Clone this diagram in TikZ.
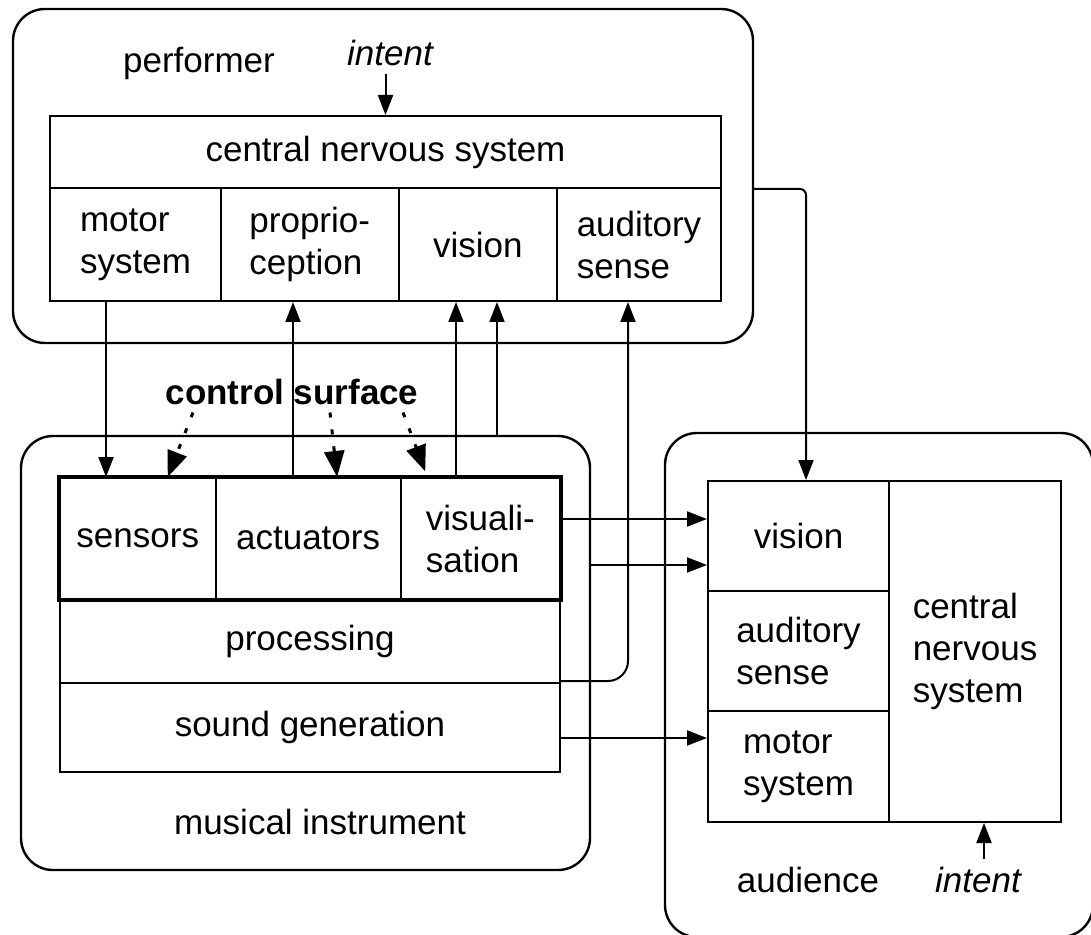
\documentclass[tikz,border=0pt]{standalone}
\usepackage{fontspec}
\setmainfont{Liberation Sans}
\usepackage{tikz}
\usetikzlibrary{arrows.meta}
\newcommand\dgfont{\fontsize{17.5}{21}\selectfont}

\begin{document}
\begin{tikzpicture}[x=0.5pt, y=-0.5pt, font=\dgfont, line width=1pt,
		group/.style = {draw, rounded corners=16pt, line width=1.2pt, inner sep=0pt},
		cell/.style = {draw, inner sep=0pt, align=left}]
	\useasboundingbox (0,0) rectangle (1091,935);
	% performer
	\node[group, minimum width=370pt, minimum height=167pt] (perf) at (383,176) {};
	\node (perflab) at (199,63) {performer};
	\node (pint) at (390,53) {\itshape intent};
	\begin{scope}[every node/.append style={cell, minimum height=56.5pt}]
		\node[minimum width=335.5pt, minimum height=36pt] (pcns) at (385.5,152) {central nervous system};
		\node[minimum width=85.5pt] (pmot) at (135.5,244.5) {motor\\system};
		\node[minimum width=88.75pt] (ppro) at (309.75,244.5) {proprio-\\ception};
		\node[minimum width=79.25pt] (pvis) at (477.75,244.5) {vision};
		\node[minimum width=82pt] (paud) at (639,244.5) {auditory\\sense};
	\end{scope}
	% musical instrument
	\node[group, minimum width=284.5pt, minimum height=217pt] (inst) at (305.5,653) {};
	\node[font=\dgfont\bfseries] (csurf) at (292,392) {control surface};
	\node (instlab) at (320,822) {musical instrument};
	\begin{scope}[every node/.append style={cell, minimum height=60.5pt}]
		\node[minimum width=77.75pt] (isen) at (137.75,538.5) {sensors};
		\node[minimum width=92.6pt] (iact) at (308.1,538.5) {actuators};
		\node[minimum width=79.65pt] (ivis) at (480.35,538.5) {visuali-\\sation};
		\node[minimum width=250pt, minimum height=42pt] (iproc) at (310,641) {processing};
		\node[minimum width=250pt, minimum height=44.5pt] (isnd) at (310,727.5) {sound generation};
	\end{scope}
	\draw[line width=2pt] (isen.north west) rectangle (ivis.south east);
	% audience
	\node[group, minimum width=214pt, minimum height=252pt] (aud) at (879,685) {};
	\node (audlab) at (808,880) {audience};
	\node (aint) at (978,880) {\itshape intent};
	\begin{scope}[every node/.append style={cell, minimum width=90.5pt}]
		\node[minimum height=55pt] (avis) at (798.5,536) {vision};
		\node[minimum height=60pt] (aaud) at (798.5,651) {auditory\\sense};
		\node[minimum height=55.5pt] (amot) at (798.5,766.5) {motor\\system};
		\node[minimum width=86pt, minimum height=170.5pt] (acns) at (975,651.5) {central\\nervous\\system};
	\end{scope}
	% where the lines run
	\coordinate (xmot) at (106,0);
	\coordinate (xpro) at (293,0);
	\coordinate (xvis) at (456,0);
	\coordinate (xins) at (497,0);
	\coordinate (xaud) at (628,0);
	\coordinate (xav) at (806,0);
	\coordinate (xint) at (984,0);
	\coordinate (yv1) at (0,519);
	\coordinate (yv2) at (0,565);
	\coordinate (yproc) at (0,681);
	\coordinate (ysnd) at (0,738);
	\begin{scope}[>={Triangle[length=10pt, width=7.5pt]},
			every edge/.style={draw=black, line width=1pt}]
		\path [->] (pint.south -| pcns.north) edge (pcns.north);
		\path [->] (pmot.south -| xmot) edge (isen.north -| xmot);
		\path [->] (iact.north -| xpro) edge (ppro.south -| xpro);
		\path [->] (ivis.north -| xvis) edge (pvis.south -| xvis);
		\path [->] (inst.north -| xins) edge (pvis.south -| xins);
		\path [->] (ivis.east |- yv1) edge (avis.west |- yv1);
		\path [->] (inst.east |- yv2) edge (avis.west |- yv2);
		\path [->] (isnd.east |- ysnd) edge (amot.west |- ysnd);
		\path [->] (aint.north -| xint) edge (acns.south -| xint);
		\draw [->, rounded corners=10pt] (iproc.south east |- yproc) -| (paud.south -| xaud);
		\draw [->, rounded corners=3pt] (perf.east |- pcns.south) -| (avis.north -| xav);
	\end{scope}
	\begin{scope}[>={Triangle[length=13pt, width=10pt]},
			every edge/.style={draw=black, line width=1.5pt, dash pattern=on 2.5pt off 6pt}]
		\path [->] ([xshift=-49.5pt]csurf.south) edge ([xshift=15pt]isen.north);
		\path [->] ([xshift=19pt]csurf.south) edge ([xshift=14.5pt]iact.north);
		\path [->, shorten >=3pt] ([xshift=55.5pt]csurf.south) edge ([xshift=-26.5pt]ivis.north);
	\end{scope}
\end{tikzpicture}
\end{document}
